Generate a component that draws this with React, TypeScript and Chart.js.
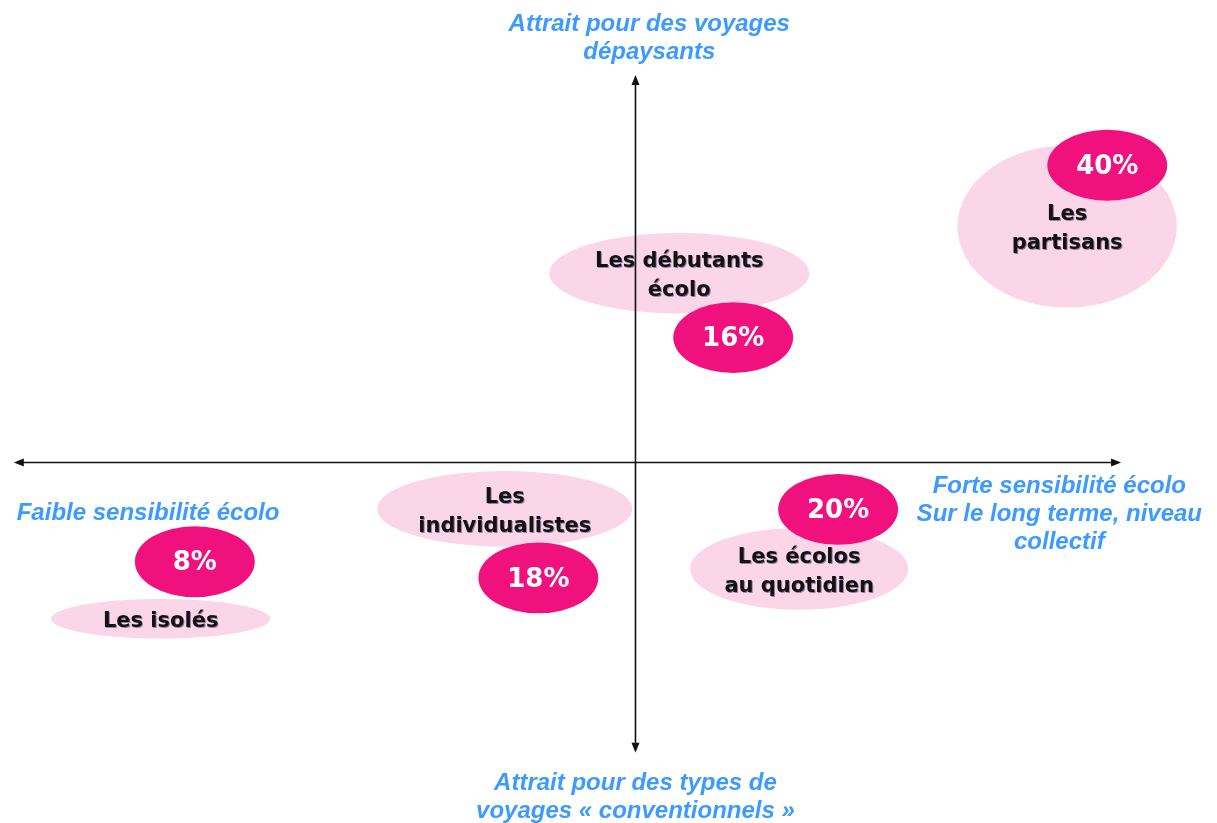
import React, { useEffect, useRef } from "react";
import { Chart, registerables } from "chart.js";

Chart.register(...registerables);

// Segment names (multi-line labels)
const segmentLabels: string[][] = [
  ["Les", "partisans"],
  ["Les débutants", "écolo"],
  ["Les", "individualistes"],
  ["Les écolos", "au quotidien"],
  ["Les isolés"],
];
// Segment position on the map (x: eco sensitivity, y: attraction for exotic travel)
const segmentX = [7.2, 0.73, -2.18, 2.73, -7.92];
const segmentY = [3.93, 3.15, -0.77, -1.77, -2.6];
// Segment extent (half-width / half-height in map units)
const segmentRx = [1.83, 2.17, 2.13, 1.82, 1.83];
const segmentRy = [1.35, 0.67, 0.63, 0.68, 0.33];

// Share of each segment
const shareValues = [40, 16, 18, 20, 8];
const shareX = [7.87, 1.63, -1.62, 3.38, -7.35];
const shareY = [4.95, 2.08, -1.92, -0.78, -1.65];
const shareRx = 1.0;
const shareRy = 0.59;

// Axis extents
const axisLeft = -10.37;
const axisRight = 8.1;
const axisTop = 6.45;
const axisBottom = -4.83;

// Axis titles
const topTitle = ["Attrait pour des voyages", "dépaysants"];
const topTitleX = 0.23;
const topTitleY = 7.33;
const bottomTitle = ["Attrait pour des types de", "voyages « conventionnels »"];
const bottomTitleX = 0.0;
const bottomTitleY = -5.3;
const leftTitle = ["Faible sensibilité écolo"];
const leftTitleX = -8.13;
const leftTitleY = -0.82;
const rightTitle = ["Forte sensibilité écolo", "Sur le long terme, niveau", "collectif"];
const rightTitleX = 7.07;
const rightTitleY = -0.37;

const LIGHT = "#fbd6e8";
const MAGENTA = "#f0117f";
const BLUE = "#3d9bff";

const mapPlugin = {
  id: "segmentMap",
  afterDatasetsDraw(chart: any) {
    const ctx = chart.ctx as CanvasRenderingContext2D;
    const xs = chart.scales.x;
    const ys = chart.scales.y;
    const px = (v: number) => xs.getPixelForValue(v);
    const py = (v: number) => ys.getPixelForValue(v);
    const unitX = Math.abs(px(1) - px(0));
    const unitY = Math.abs(py(1) - py(0));

    ctx.save();
    // light ellipses
    ctx.fillStyle = LIGHT;
    for (let i = 0; i < segmentX.length; i++) {
      ctx.beginPath();
      ctx.ellipse(px(segmentX[i]), py(segmentY[i]), segmentRx[i] * unitX, segmentRy[i] * unitY, 0, 0, Math.PI * 2);
      ctx.fill();
    }

    // axes
    const cx = px(0);
    const cy = py(0);
    ctx.strokeStyle = "#111";
    ctx.fillStyle = "#111";
    ctx.lineWidth = 1.6;
    ctx.beginPath();
    ctx.moveTo(px(axisLeft) + 6, cy);
    ctx.lineTo(px(axisRight) - 6, cy);
    ctx.moveTo(cx, py(axisTop) + 6);
    ctx.lineTo(cx, py(axisBottom) - 6);
    ctx.stroke();
    const arrow = (x: number, y: number, dx: number, dy: number) => {
      const len = 10, w = 4;
      ctx.beginPath();
      ctx.moveTo(x, y);
      ctx.lineTo(x - dx * len - dy * w, y - dy * len - dx * w);
      ctx.lineTo(x - dx * len + dy * w, y - dy * len + dx * w);
      ctx.closePath();
      ctx.fill();
    };
    arrow(px(axisLeft), cy, -1, 0);
    arrow(px(axisRight), cy, 1, 0);
    arrow(cx, py(axisTop), 0, -1);
    arrow(cx, py(axisBottom), 0, 1);

    // magenta share ellipses
    ctx.fillStyle = MAGENTA;
    for (let i = 0; i < shareX.length; i++) {
      ctx.beginPath();
      ctx.ellipse(px(shareX[i]), py(shareY[i]), shareRx * unitX, shareRy * unitY, 0, 0, Math.PI * 2);
      ctx.fill();
    }

    ctx.textAlign = "center";
    ctx.textBaseline = "middle";

    // share labels
    ctx.font = "bold 26px 'DejaVu Sans', sans-serif";
    ctx.fillStyle = "#ffffff";
    for (let i = 0; i < shareX.length; i++) {
      ctx.fillText(shareValues[i] + "%", px(shareX[i]), py(shareY[i]) + 2);
    }

    // segment labels
    ctx.font = "bold 21px 'DejaVu Sans', sans-serif";
    ctx.fillStyle = "#121212";
    ctx.shadowColor = "rgba(20,20,90,0.45)";
    ctx.shadowOffsetX = 1;
    ctx.shadowOffsetY = 1;
    ctx.shadowBlur = 0;
    const lh = 29;
    for (let i = 0; i < segmentX.length; i++) {
      const lines = segmentLabels[i];
      const y0 = py(segmentY[i]) - ((lines.length - 1) * lh) / 2 + 3;
      lines.forEach((l, k) => ctx.fillText(l, px(segmentX[i]), y0 + k * lh));
    }
    ctx.shadowColor = "transparent";

    // axis titles
    ctx.font = "italic bold 24px 'Liberation Sans', Arial, sans-serif";
    ctx.fillStyle = BLUE;
    const tl = 28;
    const drawBlock = (lines: string[], x: number, y: number) => {
      lines.forEach((l, k) => ctx.fillText(l, px(x), py(y) + 2 + k * tl));
    };
    drawBlock(topTitle, topTitleX, topTitleY);
    drawBlock(bottomTitle, bottomTitleX, bottomTitleY);
    drawBlock(leftTitle, leftTitleX, leftTitleY);
    drawBlock(rightTitle, rightTitleX, rightTitleY);

    ctx.restore();
  },
};

export default function App() {
  const ref = useRef<HTMLCanvasElement | null>(null);
  useEffect(() => {
    if (!ref.current) return;
    const chart = new Chart(ref.current, {
      type: "scatter",
      data: {
        datasets: [
          {
            label: "segments",
            data: segmentX.map((x, i) => ({ x, y: segmentY[i] })),
            pointRadius: 0,
            pointHoverRadius: 0,
          },
        ],
      },
      options: {
        animation: false,
        responsive: true,
        maintainAspectRatio: false,
        layout: { padding: 0 },
        plugins: { legend: { display: false }, tooltip: { enabled: false } },
        events: [],
        scales: {
          x: { type: "linear", min: -10.6, max: 9.7, display: false },
          y: { type: "linear", min: -6, max: 7.7, display: false },
        },
      },
      plugins: [mapPlugin],
    });
    return () => chart.destroy();
  }, []);
  return (
    <div style={{ position: "absolute", left: 0, top: 0, width: 1217, height: 823, background: "#fff" }}>
      <canvas ref={ref} />
    </div>
  );
}
